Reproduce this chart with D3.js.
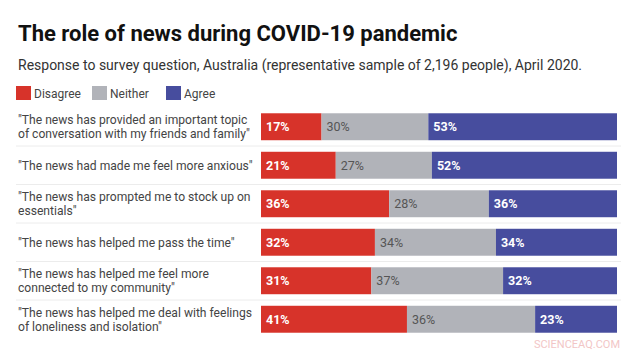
<!DOCTYPE html>
<html>
<head>
<meta charset="utf-8">
<script src="https://cdn.jsdelivr.net/npm/d3@7"></script>
<style>
  body { margin: 0; background: #fff; }
  svg { font-family: Roboto, "Noto Sans", sans-serif; }
</style>
</head>
<body>
<svg width="636" height="352"></svg>
<script>
// statements (label lines as wrapped in the original)
const statements = [
  ["\"The news has provided an important topic", "of conversation with my friends and family\""],
  ["\"The news had made me feel more anxious\""],
  ["\"The news has prompted me to stock up on", "essentials\""],
  ["\"The news has helped me pass the time\""],
  ["\"The news has helped me feel more", "connected to my community\""],
  ["\"The news has helped me deal with feelings", "of loneliness and isolation\""]
];
const series = ["Disagree", "Neither", "Agree"];
const disagree = [17, 21, 36, 32, 31, 41];
const neither = [30, 27, 28, 34, 37, 36];
const agree = [53, 52, 36, 34, 32, 23];

const colors = ["#d7332a", "#b1b3b9", "#474d9e"];

const svg = d3.select("svg");

// title block
svg.append("text")
  .attr("x", 18).attr("y", 41)
  .attr("font-size", 22).attr("font-weight", 700).attr("fill", "#111")
  .text("The role of news during COVID-19 pandemic");
svg.append("text")
  .attr("x", 18).attr("y", 70)
  .attr("font-size", 14).attr("fill", "#333")
  .text("Response to survey question, Australia (representative sample of 2,196 people), April 2020.");

// legend
const legendX = [16, 92, 166];
const legend = svg.selectAll(".key")
  .data(series)
  .enter()
  .append("g")
  .attr("class", "key")
  .attr("transform", (d, i) => "translate(" + legendX[i] + ",86)");
legend.append("rect")
  .attr("width", 15).attr("height", 14)
  .attr("fill", (d, i) => colors[i]);
legend.append("text")
  .attr("x", 18).attr("y", 11.5)
  .attr("font-size", 12).attr("fill", "#444")
  .text(d => d);

// scales
const rows = d3.range(statements.length);
const y = d3.scaleBand()
  .domain(rows)
  .range([107.5, 338.5])
  .paddingInner(0.3)
  .paddingOuter(0.15);
const x = d3.scaleLinear().domain([0, 100]).range([261, 617]);

// stack data
const table = rows.map(i => ({ row: i, Disagree: disagree[i], Neither: neither[i], Agree: agree[i] }));
const stacked = d3.stack().keys(series)(table);

// row separators
svg.selectAll(".sep")
  .data(rows.slice(1))
  .enter()
  .append("line")
  .attr("x1", 16).attr("x2", 621)
  .attr("y1", d => y(d) - y.step() * 0.15)
  .attr("y2", d => y(d) - y.step() * 0.15)
  .attr("stroke", "#ececec").attr("stroke-width", 1);

// statement labels
const labels = svg.selectAll(".label")
  .data(rows)
  .enter()
  .append("text")
  .attr("font-size", 12.1).attr("fill", "#444");
labels.each(function(i) {
  const lines = statements[i];
  const cy = y(i) + y.bandwidth() / 2;
  const lh = 14;
  d3.select(this).selectAll("tspan")
    .data(lines)
    .enter()
    .append("tspan")
    .attr("x", 18)
    .attr("y", (d, j) => cy + 4.5 + (j - (lines.length - 1) / 2) * lh)
    .text(d => d);
});

// bars
const layer = svg.selectAll(".layer")
  .data(stacked)
  .enter()
  .append("g")
  .attr("class", "layer")
  .attr("fill", (d, i) => colors[i]);
layer.selectAll("rect")
  .data(d => d)
  .enter()
  .append("rect")
  .attr("x", d => x(d[0]))
  .attr("y", d => y(d.data.row))
  .attr("width", d => x(d[1]) - x(d[0]))
  .attr("height", y.bandwidth());
layer.selectAll("text")
  .data((d, k) => d.map(v => ({ v: v, k: k })))
  .enter()
  .append("text")
  .attr("x", d => x(d.v[0]) + 5)
  .attr("y", d => y(d.v.data.row) + y.bandwidth() / 2 + 4.5)
  .attr("font-size", 12.5)
  .attr("font-weight", d => d.k == 1 ? 400 : 700)
  .attr("fill", d => d.k == 1 ? "#555" : "#fff")
  .text(d => (d.v[1] - d.v[0]) + "%");

// watermark
svg.append("text")
  .attr("x", 620).attr("y", 348)
  .attr("text-anchor", "end")
  .attr("font-size", 11).attr("fill", "#f2c6c6")
  .text("SCIENCEAQ.COM");
</script>
</body>
</html>
